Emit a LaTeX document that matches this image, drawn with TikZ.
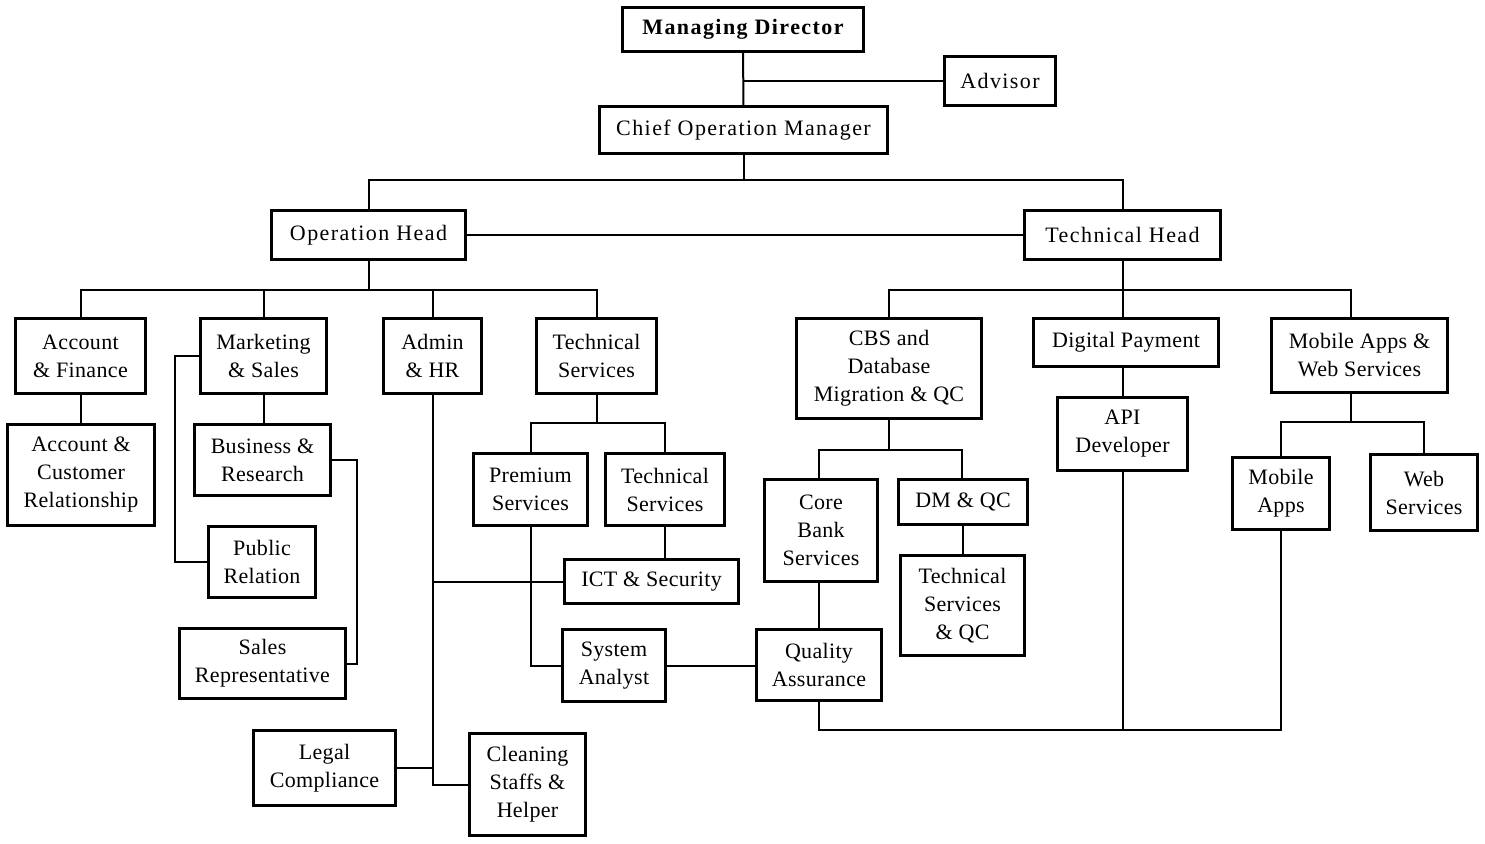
\documentclass[tikz,border=0pt]{standalone}
\usepackage{fontspec}
\setmainfont[LetterSpace=1.5]{Liberation Serif}
\usepackage{tikz}
\usetikzlibrary{positioning}

\tikzset{
	unit/.style={draw, line width=3pt, align=center, inner sep=0pt,
		font=\fontsize{22}{28}\selectfont},
	wide/.style={font=\fontsize{22}{28}\selectfont\addfontfeatures{LetterSpace=6.5}},
	link/.style={line width=2pt}
}

\begin{document}
\begin{tikzpicture}[x=1pt, y=-1pt]
		\useasboundingbox (0,0) rectangle (1485,843);

		% Define nodes
		\node[unit, wide, minimum width=241, minimum height=44] (md) at (743,29.5) {\bfseries Managing Director};
		\node[unit, wide, minimum width=111, minimum height=49] (adv) at (1000,81) {Advisor};
		\node[unit, wide, minimum width=288, minimum height=47] (com) at (743.5,130) {Chief Operation Manager};
		\node[unit, wide, minimum width=194, minimum height=49] (oh) at (368.5,235) {Operation Head};
		\node[unit, wide, minimum width=196, minimum height=49] (th) at (1122.5,235) {Technical Head};

		\node[unit, minimum width=130, minimum height=75] (af) at (80.5,356) {Account\\ \& Finance};
		\node[unit, minimum width=126, minimum height=75] (ms) at (263.5,356) {Marketing\\ \& Sales};
		\node[unit, minimum width=98, minimum height=75] (ahr) at (432.5,356) {Admin\\ \& HR};
		\node[unit, minimum width=120, minimum height=75] (ts) at (596.5,356) {Technical\\ Services};

		\node[unit, minimum width=147, minimum height=101] (acr) at (81,475) {Account \&\\ Customer\\ Relationship};
		\node[unit, minimum width=136, minimum height=71] (br) at (262.5,460) {Business \&\\ Research};
		\node[unit, minimum width=107, minimum height=71] (pr) at (262,562) {Public\\ Relation};
		\node[unit, minimum width=166, minimum height=70] (sr) at (262.5,663.5) {Sales\\ Representative};
		\node[unit, minimum width=142, minimum height=75] (lc) at (324.5,768) {Legal\\ Compliance};
		\node[unit, minimum width=116, minimum height=102] (csh) at (527.5,784.5) {Cleaning\\ Staffs \&\\ Helper};

		\node[unit, minimum width=114, minimum height=72] (ps) at (530.5,489.5) {Premium\\ Services};
		\node[unit, minimum width=119, minimum height=72] (tsb) at (665,489.5) {Technical\\ Services};
		\node[unit, minimum width=174, minimum height=44] (ict) at (651.5,581.5) {ICT \& Security};
		\node[unit, minimum width=103, minimum height=72] (sa) at (614,665.5) {System\\ Analyst};
		\node[unit, minimum width=125, minimum height=71] (qa) at (819,665) {Quality\\ Assurance};

		\node[unit, minimum width=185, minimum height=100] (cbs) at (889,368.5) {CBS and\\ Database\\ Migration \& QC};
		\node[unit, minimum width=185, minimum height=48] (dp) at (1126,342.5) {Digital Payment};
		\node[unit, minimum width=176, minimum height=74] (maws) at (1359.5,355.5) {Mobile Apps \&\\ Web Services};
		\node[unit, minimum width=130, minimum height=73] (api) at (1122.5,434) {API\\ Developer};
		\node[unit, minimum width=113, minimum height=102] (cbk) at (821,530.5) {Core\\ Bank\\ Services};
		\node[unit, minimum width=129, minimum height=45] (dmqc) at (963,502) {DM \& QC};
		\node[unit, minimum width=124, minimum height=100] (tsqc) at (962.5,605.5) {Technical\\ Services\\ \& QC};
		\node[unit, minimum width=97, minimum height=72] (mapp) at (1281,493.5) {Mobile\\ Apps};
		\node[unit, minimum width=107, minimum height=76] (ws) at (1424,492.5) {Web\\ Services};

		% Connect the nodes
		\draw[link] (md) -- (com);
		\draw[link] (adv.west) -- (adv.west -| md.south);
		\draw[link] (com.south) -- ++(0,25) -| (oh.north);
		\draw[link] (com.south) -- ++(0,25) -| (th.north);
		\draw[link] (oh.east) -- (th.west);

		\foreach \n in {af,ms,ahr,ts}
			\draw[link] (oh.south) -- ++(0,29) -| (\n.north);
		\draw[link] (af.south) -- (af.south |- acr.north);
		\draw[link] (ms.south) -- (ms.south |- br.north);
		\draw[link] (ms.west) -- ++(-24,0) |- (pr.west);
		\draw[link] (br.east) -- ++(25,0) |- (sr.east);
		\draw[link] (ahr.south) |- (csh.west);
		\draw[link] (ict.west) -- (ict.west -| ahr.south);
		\draw[link] (lc.east) -- (lc.east -| ahr.south);

		\draw[link] (ts.south) -- ++(0,28) -| (ps.north);
		\draw[link] (ts.south) -- ++(0,28) -| (tsb.north);
		\draw[link] (tsb.south) -- (tsb.south |- ict.north);
		\draw[link] (ps.south) |- (sa.west);
		\draw[link] (sa.east) -- (sa.east -| qa.west);

		\draw[link] (th.south) -- ++(0,29) -| (cbs.north);
		\draw[link] (th.south) -- ++(0,29) -| ([xshift=-8.5]maws.north);
		\draw[link] (th.south) -- (th.south |- dp.north);
		\draw[link] (dp.south -| api.north) -- (api.north);
		\draw[link] (cbs.south) -- ++(0,30) -| ([xshift=-2]cbk.north);
		\draw[link] (cbs.south) -- ++(0,30) -| ([xshift=-1]dmqc.north);
		\draw[link] (dmqc.south -| tsqc.north) -- (tsqc.north);
		\draw[link] (cbk.south -| qa.north) -- (qa.north);
		\draw[link] ([xshift=-8.5]maws.south) -- ++(0,28) -| (mapp.north);
		\draw[link] ([xshift=-8.5]maws.south) -- ++(0,28) -| (ws.north);

		\draw[link] (qa.south) -- ++(0,28) coordinate (bus) -| (mapp.south);
		\draw[link] (api.south) -- (api.south |- bus);
	\end{tikzpicture}
\end{document}
